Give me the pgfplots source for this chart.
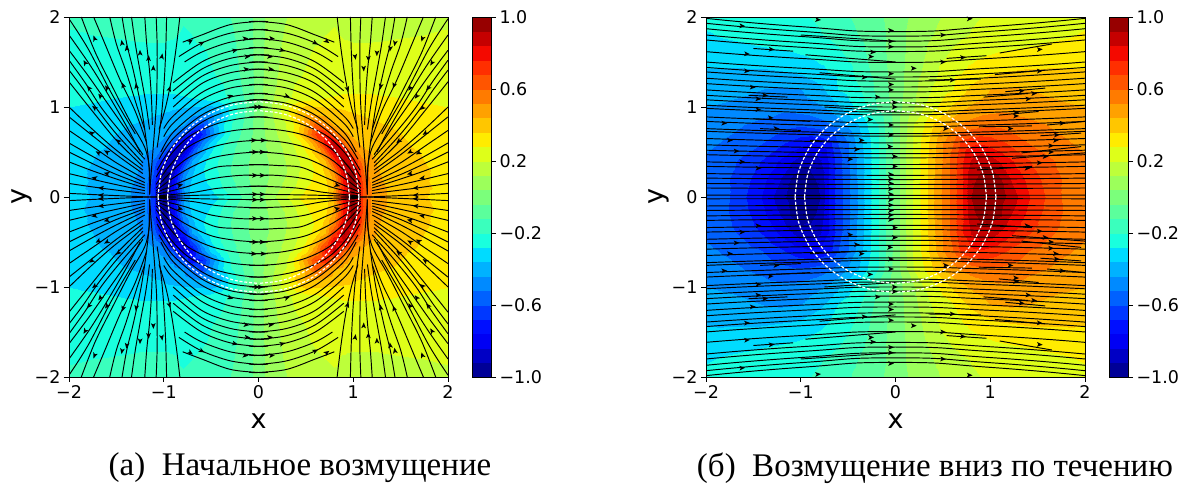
\documentclass[border=0pt]{standalone}
\usepackage{pgfplots}
\usepackage{pgfplotstable}
\usepackage{fontspec}
\pgfplotsset{compat=1.18}
\setmainfont{Liberation Serif}
\newfontfamily\djv{DejaVu Sans}
\pgfplotstableread[row sep=\\]{x y z\\
0 2 0\\.1 2 .06\\.2 2 .10\\.3 2 .12\\.4 2 .14\\.5 2 .15\\.6 2 .17\\.7 2 .19\\.8 2 .195\\.9 2 .19\\1 2 .18\\1.1 2 .175\\1.2 2 .17\\1.3 2 .17\\1.5 2 .17\\1.75 2 .175\\2 2 .18\\
0 1.8 0\\.1 1.8 .06\\.2 1.8 .105\\.3 1.8 .13\\.4 1.8 .15\\.5 1.8 .17\\.6 1.8 .185\\.7 1.8 .2\\.8 1.8 .205\\.9 1.8 .195\\1 1.8 .19\\1.1 1.8 .19\\1.2 1.8 .19\\1.3 1.8 .19\\1.5 1.8 .195\\1.75 1.8 .2\\2 1.8 .21\\
0 1.6 0\\.1 1.6 .07\\.2 1.6 .11\\.3 1.6 .14\\.4 1.6 .17\\.5 1.6 .19\\.6 1.6 .21\\.7 1.6 .215\\.8 1.6 .215\\.9 1.6 .215\\1 1.6 .215\\1.1 1.6 .215\\1.2 1.6 .215\\1.3 1.6 .22\\1.5 1.6 .225\\1.75 1.6 .23\\2 1.6 .235\\
0 1.4 0\\.1 1.4 .07\\.2 1.4 .115\\.3 1.4 .15\\.4 1.4 .18\\.5 1.4 .205\\.6 1.4 .225\\.7 1.4 .23\\.8 1.4 .235\\.9 1.4 .24\\1 1.4 .24\\1.1 1.4 .24\\1.2 1.4 .24\\1.3 1.4 .24\\1.5 1.4 .245\\1.75 1.4 .25\\2 1.4 .25\\
0 1.2 0\\.1 1.2 .08\\.2 1.2 .13\\.3 1.2 .17\\.4 1.2 .215\\.5 1.2 .23\\.6 1.2 .25\\.7 1.2 .255\\.8 1.2 .265\\.9 1.2 .27\\1 1.2 .27\\1.1 1.2 .27\\1.2 1.2 .27\\1.3 1.2 .27\\1.5 1.2 .27\\1.75 1.2 .27\\2 1.2 .26\\
0 1.1 0\\.1 1.1 .08\\.2 1.1 .14\\.3 1.1 .18\\.4 1.1 .225\\.5 1.1 .25\\.6 1.1 .265\\.7 1.1 .28\\.8 1.1 .285\\.9 1.1 .29\\1 1.1 .29\\1.1 1.1 .29\\1.2 1.1 .29\\1.3 1.1 .285\\1.5 1.1 .28\\1.75 1.1 .27\\2 1.1 .265\\
0 1 0\\.1 1 .09\\.2 1 .17\\.3 1 .26\\.4 1 .33\\.5 1 .38\\.6 1 .365\\.7 1 .36\\.8 1 .355\\.9 1 .35\\1 1 .345\\1.1 1 .335\\1.2 1 .325\\1.3 1 .315\\1.5 1 .305\\1.75 1 .29\\2 1 .28\\
0 .9 0\\.1 .9 .08\\.2 .9 .16\\.3 .9 .26\\.4 .9 .38\\.5 .9 .46\\.6 .9 .46\\.7 .9 .44\\.8 .9 .41\\.9 .9 .39\\1 .9 .37\\1.1 .9 .36\\1.2 .9 .35\\1.3 .9 .34\\1.5 .9 .32\\1.75 .9 .305\\2 .9 .29\\
0 .8 0\\.1 .8 .07\\.2 .8 .14\\.3 .8 .21\\.4 .8 .3\\.5 .8 .46\\.6 .8 .62\\.7 .8 .54\\.8 .8 .44\\.9 .8 .41\\1 .8 .4\\1.1 .8 .385\\1.2 .8 .375\\1.3 .8 .365\\1.5 .8 .35\\1.75 .8 .33\\2 .8 .31\\
0 .7 0\\.1 .7 .06\\.2 .7 .12\\.3 .7 .2\\.4 .7 .32\\.5 .7 .5\\.6 .7 .68\\.7 .7 .76\\.8 .7 .6\\.9 .7 .46\\1 .7 .42\\1.1 .7 .4\\1.2 .7 .39\\1.3 .7 .38\\1.5 .7 .36\\1.75 .7 .345\\2 .7 .33\\
0 .6 0\\.1 .6 .05\\.2 .6 .1\\.3 .6 .16\\.4 .6 .23\\.5 .6 .33\\.6 .6 .5\\.7 .6 .78\\.8 .6 .88\\.9 .6 .6\\1 .6 .47\\1.1 .6 .42\\1.2 .6 .4\\1.3 .6 .39\\1.5 .6 .365\\1.75 .6 .35\\2 .6 .33\\
0 .5 0\\.1 .5 .05\\.2 .5 .09\\.3 .5 .14\\.4 .5 .2\\.5 .5 .28\\.6 .5 .4\\.7 .5 .6\\.8 .5 .87\\.9 .5 .86\\1 .5 .58\\1.1 .5 .46\\1.2 .5 .435\\1.3 .5 .42\\1.5 .5 .38\\1.75 .5 .355\\2 .5 .335\\
0 .4 0\\.1 .4 .04\\.2 .4 .08\\.3 .4 .13\\.4 .4 .18\\.5 .4 .24\\.6 .4 .31\\.7 .4 .44\\.8 .4 .7\\.9 .4 .93\\1 .4 .78\\1.1 .4 .54\\1.2 .4 .45\\1.3 .4 .425\\1.5 .4 .39\\1.75 .4 .36\\2 .4 .34\\
0 .3 0\\.1 .3 .04\\.2 .3 .08\\.3 .3 .12\\.4 .3 .18\\.5 .3 .23\\.6 .3 .29\\.7 .3 .38\\.8 .3 .55\\.9 .3 .9\\1 .3 .92\\1.1 .3 .6\\1.2 .3 .46\\1.3 .3 .43\\1.5 .3 .395\\1.75 .3 .365\\2 .3 .345\\
0 .2 0\\.1 .2 .04\\.2 .2 .09\\.3 .2 .13\\.4 .2 .19\\.5 .2 .25\\.6 .2 .3\\.7 .2 .35\\.8 .2 .47\\.9 .2 .82\\1 .2 .97\\1.1 .2 .64\\1.2 .2 .475\\1.3 .2 .44\\1.5 .2 .4\\1.75 .2 .365\\2 .2 .345\\
0 .1 0\\.1 .1 .05\\.2 .1 .1\\.3 .1 .15\\.4 .1 .21\\.5 .1 .28\\.6 .1 .31\\.7 .1 .33\\.8 .1 .45\\.9 .1 .78\\1 .1 .98\\1.1 .1 .68\\1.2 .1 .5\\1.3 .1 .45\\1.5 .1 .405\\1.75 .1 .37\\2 .1 .34\\
0 0 0\\.1 0 .06\\.2 0 .13\\.3 0 .2\\.4 0 .27\\.5 0 .31\\.6 0 .31\\.7 0 .31\\.8 0 .46\\.9 0 .84\\1 0 .97\\1.1 0 .66\\1.2 0 .5\\1.3 0 .45\\1.5 0 .405\\1.75 0 .365\\2 0 .33\\
}\fieldA
\pgfplotstableread[row sep=\\]{x y z\\
0 2 0\\.1 2 .03\\.2 2 .06\\.3 2 .08\\.4 2 .105\\.5 2 .125\\.6 2 .15\\.7 2 .17\\.8 2 .19\\.9 2 .2\\1 2 .205\\1.1 2 .21\\1.2 2 .215\\1.4 2 .22\\1.6 2 .23\\1.8 2 .24\\2 2 .25\\
0 1.8 0\\.1 1.8 .04\\.2 1.8 .07\\.3 1.8 .1\\.4 1.8 .12\\.5 1.8 .14\\.6 1.8 .165\\.7 1.8 .19\\.8 1.8 .205\\.9 1.8 .215\\1 1.8 .225\\1.1 1.8 .23\\1.2 1.8 .235\\1.4 1.8 .245\\1.6 1.8 .26\\1.8 1.8 .27\\2 1.8 .29\\
0 1.6 0\\.1 1.6 .04\\.2 1.6 .08\\.3 1.6 .115\\.4 1.6 .15\\.5 1.6 .18\\.6 1.6 .215\\.7 1.6 .24\\.8 1.6 .25\\.9 1.6 .265\\1 1.6 .275\\1.1 1.6 .285\\1.2 1.6 .29\\1.4 1.6 .3\\1.6 1.6 .31\\1.8 1.6 .32\\2 1.6 .33\\
0 1.4 0\\.1 1.4 .045\\.2 1.4 .09\\.3 1.4 .13\\.4 1.4 .17\\.5 1.4 .23\\.6 1.4 .26\\.7 1.4 .275\\.8 1.4 .3\\.9 1.4 .32\\1 1.4 .34\\1.1 1.4 .355\\1.2 1.4 .36\\1.4 1.4 .37\\1.6 1.4 .37\\1.8 1.4 .37\\2 1.4 .365\\
0 1.2 0\\.1 1.2 .05\\.2 1.2 .1\\.3 1.2 .16\\.4 1.2 .21\\.5 1.2 .25\\.6 1.2 .27\\.7 1.2 .33\\.8 1.2 .38\\.9 1.2 .41\\1 1.2 .44\\1.1 1.2 .445\\1.2 1.2 .45\\1.4 1.2 .44\\1.6 1.2 .42\\1.8 1.2 .4\\2 1.2 .385\\
0 1 0\\.1 1 .06\\.2 1 .115\\.3 1 .2\\.4 1 .25\\.5 1 .31\\.6 1 .37\\.7 1 .42\\.8 1 .45\\.9 1 .47\\1 1 .48\\1.1 1 .5\\1.2 1 .5\\1.4 1 .49\\1.6 1 .47\\1.8 1 .455\\2 1 .44\\
0 .8 0\\.1 .8 .1\\.2 .8 .21\\.3 .8 .28\\.4 .8 .36\\.5 .8 .43\\.6 .8 .49\\.7 .8 .53\\.8 .8 .56\\.9 .8 .58\\1 .8 .59\\1.1 .8 .585\\1.2 .8 .57\\1.4 .8 .54\\1.6 .8 .52\\1.8 .8 .49\\2 .8 .47\\
0 .6 0\\.1 .6 .11\\.2 .6 .22\\.3 .6 .31\\.4 .6 .41\\.5 .6 .52\\.6 .6 .59\\.7 .6 .71\\.8 .6 .74\\.9 .6 .75\\1 .6 .73\\1.1 .6 .7\\1.2 .6 .67\\1.4 .6 .6\\1.6 .6 .56\\1.8 .6 .53\\2 .6 .5\\
0 .4 0\\.1 .4 .11\\.2 .4 .22\\.3 .4 .32\\.4 .4 .42\\.5 .4 .53\\.6 .4 .63\\.7 .4 .75\\.8 .4 .85\\.9 .4 .9\\1 .4 .89\\1.1 .4 .83\\1.2 .4 .78\\1.4 .4 .69\\1.6 .4 .62\\1.8 .4 .57\\2 .4 .535\\
0 .2 0\\.1 .2 .11\\.2 .2 .22\\.3 .2 .32\\.4 .2 .43\\.5 .2 .54\\.6 .2 .63\\.7 .2 .75\\.8 .2 .9\\.9 .2 .94\\1 .2 .96\\1.1 .2 .93\\1.2 .2 .85\\1.4 .2 .74\\1.6 .2 .65\\1.8 .2 .585\\2 .2 .54\\
0 0 0\\.1 0 .11\\.2 0 .22\\.3 0 .32\\.4 0 .43\\.5 0 .54\\.6 0 .63\\.7 0 .75\\.8 0 .92\\.9 0 .97\\1 0 .98\\1.1 0 .95\\1.2 0 .9\\1.4 0 .77\\1.6 0 .67\\1.8 0 .58\\2 0 .53\\
}\fieldB
\pgfplotstableread[row sep=\\]{x y z\\0 -1 -1\\1 -1 -1\\0 1 1\\1 1 1\\}\cbdata
\pgfplotstableread[row sep=\\]{x y a\\
-1.83 1.49 120\\-1.73 1.76 110\\-1.44 1.71 100\\-1.39 1.65 98\\-1.25 1.6 92\\-1.16 1.54 88\\-1.11 1.43 88\\-1.02 1.56 80\\-.94 1.2 72\\-1.43 1.24 110\\-1.29 1.23 100\\-1.6 1.21 125\\-1.67 1.12 128\\-1.79 1.21 130\\-1.73 .99 140\\-1.76 .71 145\\-1.69 .49 150\\-1.6 .5 150\\-1.48 .62 140\\-1.73 .21 170\\-1.6 .26 165\\-1.66 .1 175\\-1.66 .02 178\\-.72 1.73 35\\-.6 1.71 28\\-.25 1.63 15\\-.3 1.12 20\\-.14 1.76 5\\-.12 1.56 5\\-.83 .13 15\\-.05 .63 0\\-.04 .24 0\\-.04 .03 0\\-.04 .5 0\\-.13 1.42 5\\-.02 1 0\\
}\arrA
\pgfplotstableread[row sep=\\]{x y a\\
-1.62 1.9 -4\\-.82 1.97 -4\\-.05 1.85 0\\-.05 1.73 0\\-.05 1.67 0\\-.24 1.61 -2\\-.26 1.56 -2\\-1.31 1.64 -4\\-1.57 1.59 -4\\-1.57 1.4 -3\\-.33 1.33 -2\\-.05 1.37 0\\-.05 1.25 0\\-.05 1.19 0\\-1.51 1.22 -3\\-1.38 1.13 -3\\-1.45 1.09 -3\\-.19 1.11 -1\\-.01 1.05 0\\-.01 1 0\\-1.45 .97 -2\\-.27 .86 -1\\-1.32 .88 -2\\-1.81 .82 -2\\-.05 .8 0\\-1.26 .76 -2\\-.05 .69 0\\-1.75 .63 -1\\-.36 .63 -1\\-.06 .56 0\\-.41 .53 -1\\-1.68 .51 -1\\-.01 .45 0\\-.48 .42 -1\\-1.62 .39 -1\\-1.45 .32 -1\\-.01 .34 0\\-.05 .25 0\\-.05 .2 0\\-.05 .15 0\\-.05 .09 0\\-.05 .03 0\\.78 1.98 3\\.5 1.8 2\\1.52 1.64 4\\.71 1.55 2\\.5 1.5 2\\.19 1.43 0\\1.52 1.4 3\\.6 1.3 2\\1.33 1.18 3\\1.46 1.15 3\\1.4 1.09 3\\1.27 .94 2\\1.27 .9 2\\1.76 .82 2\\.53 .76 1\\1.21 .76 2\\1.7 .69 2\\1.69 .63 2\\1.64 .57 1\\1.64 .5 1\\1.58 .45 1\\1.52 .38 1\\1.39 .32 1\\
}\arrB
\pgfdeclareplotmark{arr}{\pgfpathmoveto{\pgfqpoint{3.2pt}{0pt}}\pgfpathlineto{\pgfqpoint{-2.6pt}{2.4pt}}\pgfpathlineto{\pgfqpoint{-1.2pt}{0pt}}\pgfpathlineto{\pgfqpoint{-2.6pt}{-2.4pt}}\pgfpathclose\pgfusepathqfill}
\tikzset{
 sl/.style={draw=black,line width=.95pt,no marks,smooth,tension=.55},
 slr/.style={draw=black,line width=.95pt,no marks,smooth,tension=1},
 ring/.style={draw=white,line width=1.2pt,dash pattern=on 3pt off 1.8pt,no marks,smooth},
}
\pgfplotsset{
 arrstyle/.style={only marks,scatter,mark=arr,point meta=x,
   scatter/use mapped color={draw=black,fill=black},
   visualization depends on={#1 \as \ang},
   scatter/@pre marker code/.append style={/tikz/rotate=\ang}},
}
\newcommand\Q[1]{%
 \addplot[sl] table[header=false,row sep=\\,x index=0,y index=1]{#1};
 \addplot[sl] table[header=false,row sep=\\,x index=0,y expr=-\thisrowno{1}]{#1};
 \addplot[sl] table[header=false,row sep=\\,x expr=-\thisrowno{0},y index=1]{#1};
 \addplot[sl] table[header=false,row sep=\\,x expr=-\thisrowno{0},y expr=-\thisrowno{1}]{#1};
}
\newcommand\R[1]{%
 \addplot[slr] table[header=false,row sep=\\,x index=0,y index=1]{#1};
 \addplot[slr] table[header=false,row sep=\\,x index=0,y expr=-\thisrowno{1}]{#1};
}
\newcommand\ringq[1]{%
 \addplot[ring] table[header=false,row sep=\\,x index=0,y index=1]{#1};
 \addplot[ring] table[header=false,row sep=\\,x index=0,y expr=-\thisrowno{1}]{#1};
 \addplot[ring] table[header=false,row sep=\\,x expr=-\thisrowno{0},y index=1]{#1};
 \addplot[ring] table[header=false,row sep=\\,x expr=-\thisrowno{0},y expr=-\thisrowno{1}]{#1};
}
\newcommand\rings{%
 \ringq{1.06 0\\1.024 .274\\.918 .53\\.75 .75\\.53 .918\\.274 1.024\\0 1.06\\}
 \ringq{.96 0\\.927 .248\\.831 .48\\.679 .679\\.48 .831\\.248 .927\\0 .96\\}
}
\newcommand\field[3]{%
 \addplot3[surf,shader=interp,mesh/rows=#2,mesh/cols=#3] table[x=x,y=y,z=z]{#1};
 \addplot3[surf,shader=interp,mesh/rows=#2,mesh/cols=#3] table[x=x,y expr=-\thisrow{y},z=z]{#1};
 \addplot3[surf,shader=interp,mesh/rows=#2,mesh/cols=#3] table[x expr=-\thisrow{x},y=y,z expr=-\thisrow{z}]{#1};
 \addplot3[surf,shader=interp,mesh/rows=#2,mesh/cols=#3] table[x expr=-\thisrow{x},y expr=-\thisrow{y},z expr=-\thisrow{z}]{#1};
}
\pgfplotsset{
 colormap={ojet}{rgb=(0,0,.591) rgb=(0,0,.773) rgb=(0,0,.955) rgb=(0,.06,1) rgb=(0,.22,1) rgb=(0,.38,1) rgb=(0,.54,1) rgb=(0,.70,1) rgb=(0,.86,1) rgb=(.097,1,.871) rgb=(.226,1,.742) rgb=(.355,1,.613) rgb=(.484,1,.484) rgb=(.613,1,.355) rgb=(.742,1,.226) rgb=(.871,1,.097) rgb=(1,.926,0) rgb=(1,.778,0) rgb=(1,.63,0) rgb=(1,.481,0) rgb=(1,.333,0) rgb=(1,.185,0) rgb=(.955,.037,0) rgb=(.773,0,0) rgb=(.591,0,0)},
 colormap name=ojet,
 common/.style={
  scale only axis,anchor=south west,
  view={0}{90},colormap access=piecewise constant,
  point meta min=-1,point meta max=1,zmin=-1,zmax=1,ztick=\empty,
  tick style={black,line width=.8pt},major tick length=5pt,
  tick align=outside,axis line style={black,line width=.8pt},
  tick label style={font=\djv\fontsize{17.5}{20}\selectfont},
  clip=true,
 },
 panel/.style={common,width=379pt,height=360pt,
  xmin=-2,xmax=2,ymin=-2,ymax=2,
  xtick={-2,-1,0,1,2},ytick={-2,-1,0,1,2},
  xticklabels={−2,−1,0,1,2},yticklabels={−2,−1,0,1,2},
  xtick pos=bottom,ytick pos=left,
  xlabel={x},ylabel={y},
  label style={font=\djv\fontsize{27}{30}\selectfont},
  xlabel style={yshift=-8pt},ylabel style={yshift=-4.5pt},
 },
 over/.style={scale only axis,anchor=south west,width=379pt,height=360pt,xmin=-2,xmax=2,ymin=-2,ymax=2,hide axis},
 cb/.style={common,width=19pt,height=360pt,
  xmin=0,xmax=1,ymin=-1,ymax=1,xtick=\empty,
  ytick={-1,-.6,-.2,.2,.6,1},yticklabels={−1.0,−0.6,−0.2,0.2,0.6,1.0},
  ytick pos=right,yticklabel pos=right,
 },
}
\begin{document}
\begin{tikzpicture}[x=1pt,y=1pt]
\useasboundingbox (0,0) rectangle (1189,489);
\begin{axis}[panel,at={(69pt,112pt)}]
\field{\fieldA}{17}{17}
\end{axis}
\begin{axis}[over,at={(69pt,112pt)}]
\Q{-1.15 .03\\-1.15 .3\\-1.2 .55\\-1.36 .85\\-1.53 1.2\\-1.72 1.6\\-1.87 2\\}
\Q{-1.18 .6\\-1.3 .95\\-1.46 1.3\\-1.62 1.7\\-1.74 2\\}
\Q{-1.2 .75\\-1.28 1\\-1.4 1.4\\-1.5 1.7\\-1.57 2\\}
\Q{-1.15 .03\\-1.16 .4\\-1.23 .95\\-1.32 1.4\\-1.39 1.7\\-1.44 2\\}
\Q{-1.15 .75\\-1.19 1.05\\-1.25 1.4\\-1.3 1.7\\-1.34 2\\}
\Q{-1.12 .8\\-1.13 1.1\\-1.15 1.4\\-1.18 1.7\\-1.2 2\\}
\Q{-1.15 .03\\-1.13 .3\\-1.08 1\\-1.07 1.4\\-1.07 1.7\\-1.08 2\\}
\Q{-1.07 .55\\-1.03 .85\\-1 1.2\\-.98 1.6\\-.97 2\\}
\Q{-1.05 .75\\-.98 1\\-.92 1.3\\-.87 1.65\\-.83 2\\}
\Q{-.8 1.72\\-.6 1.8\\-.3 1.915\\0 1.95\\.1 1.947\\}
\Q{-.84 1.56\\-.6 1.71\\-.3 1.82\\0 1.86\\.1 1.856\\}
\Q{-.78 1.5\\-.6 1.61\\-.3 1.72\\0 1.76\\.1 1.756\\}
\Q{-.9 1.27\\-.6 1.5\\-.3 1.62\\0 1.66\\.1 1.656\\}
\Q{-.9 1.18\\-.6 1.42\\-.3 1.54\\0 1.58\\.1 1.576\\}
\Q{-.9 1.09\\-.6 1.34\\-.3 1.46\\0 1.5\\.1 1.496\\}
\Q{-.9 1\\-.6 1.26\\-.3 1.38\\0 1.42\\.1 1.416\\}
\Q{-1 .76\\-.9 .9\\-.6 1.16\\-.3 1.29\\0 1.33\\.1 1.326\\}
\Q{-1 .67\\-.9 .82\\-.6 1.08\\-.3 1.21\\0 1.25\\.1 1.246\\}
\Q{-1.03 .5\\-.9 .72\\-.6 .98\\-.3 1.11\\0 1.15\\.1 1.146\\}
\Q{-1.05 .42\\-.9 .65\\-.6 .91\\-.3 1.04\\0 1.08\\.1 1.076\\}
\Q{-1.07 .3\\-.9 .57\\-.6 .83\\-.3 .96\\0 1\\.1 .996\\}
\Q{-1.08 .22\\-.92 .48\\-.72 .68\\-.45 .81\\-.2 .87\\0 .89\\.1 .888\\}
\Q{-1.08 .14\\-.93 .36\\-.75 .55\\-.5 .68\\-.25 .74\\0 .76\\.1 .758\\}
\Q{-1.08 .1\\-.93 .27\\-.75 .43\\-.5 .55\\-.25 .61\\0 .63\\.1 .63\\}
\Q{-1.08 .07\\-.93 .19\\-.75 .31\\-.5 .43\\-.25 .48\\0 .5\\.1 .5\\}
\Q{-1.08 .05\\-.9 .13\\-.7 .22\\-.45 .33\\-.2 .35\\0 .36\\.1 .36\\}
\Q{-1.08 .03\\-.8 .1\\-.5 .2\\-.2 .24\\0 .24\\.1 .24\\}
\Q{-1.08 .01\\-.7 .05\\-.4 .1\\0 .12\\.1 .12\\}
\Q{-1.15 0\\-.6 .02\\0 .03\\.1 .03\\}
\Q{-1.3 .7\\-1.55 1.15\\-1.8 1.65\\-2 1.98\\}
\Q{-1.25 .5\\-1.4 .8\\-1.65 1.25\\-1.8 1.5\\-2 1.8\\}
\Q{-1.22 .47\\-1.4 .75\\-1.6 1.05\\-1.8 1.35\\-2 1.63\\}
\Q{-1.2 .42\\-1.42 .68\\-1.65 .98\\-1.83 1.27\\-2 1.52\\}
\Q{-1.22 .38\\-1.5 .7\\-1.7 .97\\-1.85 1.2\\-2 1.41\\}
\Q{-1.22 .34\\-1.5 .63\\-1.75 .95\\-2 1.28\\}
\Q{-1.22 .3\\-1.5 .52\\-1.75 .75\\-2 1\\}
\Q{-1.22 .26\\-1.5 .47\\-1.75 .68\\-2 .89\\}
\Q{-1.2 .2\\-1.5 .38\\-1.75 .56\\-2 .74\\}
\Q{-1.2 .16\\-1.5 .31\\-1.75 .45\\-2 .6\\}
\Q{-1.2 .13\\-1.5 .25\\-1.75 .37\\-2 .5\\}
\Q{-1.2 .1\\-1.5 .2\\-1.75 .29\\-2 .39\\}
\Q{-1.2 .07\\-1.6 .16\\-2 .26\\}
\Q{-1.2 .04\\-1.6 .09\\-2 .15\\}
\Q{-1.15 0\\-1.6 .02\\-2 .04\\}
\addplot[arrstyle={\thisrow{a}}] table[x=x,y=y]{\arrA};
\addplot[arrstyle={-\thisrow{a}}] table[x=x,y expr=-\thisrow{y}]{\arrA};
\addplot[arrstyle={-\thisrow{a}}] table[x expr=-\thisrow{x},y=y]{\arrA};
\addplot[arrstyle={\thisrow{a}}] table[x expr=-\thisrow{x},y expr=-\thisrow{y}]{\arrA};
\rings
\end{axis}
\begin{axis}[cb,at={(472pt,112pt)}]
\addplot3[surf,shader=interp,mesh/rows=2,mesh/cols=2] table[x=x,y=y,z=z]{\cbdata};
\end{axis}
\begin{axis}[panel,at={(706pt,112pt)}]
\field{\fieldB}{11}{17}
\end{axis}
\begin{axis}[over,at={(706pt,112pt)}]
\R{-2 1.985\\-1 1.893\\0 1.838\\1 1.893\\2 1.985\\}
\R{-2 1.93\\-1 1.841\\0 1.787\\1 1.841\\2 1.93\\}
\R{-2 1.87\\-1 1.784\\0 1.731\\1 1.784\\2 1.87\\}
\R{-2 1.8\\-1 1.717\\0 1.667\\1 1.717\\2 1.8\\}
\R{-2 1.745\\-1 1.664\\0 1.616\\1 1.664\\2 1.745\\}
\R{-2 1.615\\-1 1.54\\0 1.495\\1 1.54\\2 1.615\\}
\R{-2 1.5\\-1 1.431\\0 1.389\\1 1.431\\2 1.5\\}
\R{-2 1.44\\-1 1.373\\0 1.333\\1 1.373\\2 1.44\\}
\R{-2 1.39\\-1 1.326\\0 1.287\\1 1.326\\2 1.39\\}
\R{-2 1.32\\-1 1.259\\0 1.222\\1 1.259\\2 1.32\\}
\R{-2 1.26\\-1 1.202\\0 1.167\\1 1.202\\2 1.26\\}
\R{-2 1.19\\-1 1.135\\0 1.102\\1 1.135\\2 1.19\\}
\R{-2 1.13\\-1 1.078\\0 1.046\\1 1.078\\2 1.13\\}
\R{-2 1.08\\-1 1.03\\0 1\\1 1.03\\2 1.08\\}
\R{-2 1.02\\-1 .973\\0 .944\\1 .973\\2 1.02\\}
\R{-2 .985\\-1 .94\\0 .912\\1 .94\\2 .985\\}
\R{-2 .89\\-1 .849\\0 .824\\1 .849\\2 .89\\}
\R{-2 .84\\-1 .801\\0 .778\\1 .801\\2 .84\\}
\R{-2 .76\\-1 .725\\0 .704\\1 .725\\2 .76\\}
\R{-2 .73\\-1 .696\\0 .676\\1 .696\\2 .73\\}
\R{-2 .65\\-1 .62\\0 .602\\1 .62\\2 .65\\}
\R{-2 .58\\-1 .553\\0 .537\\1 .553\\2 .58\\}
\R{-2 .52\\-1 .496\\0 .481\\1 .496\\2 .52\\}
\R{-2 .47\\-1 .448\\0 .435\\1 .448\\2 .47\\}
\R{-2 .39\\-1 .372\\0 .361\\1 .372\\2 .39\\}
\R{-2 .34\\-1 .324\\0 .315\\1 .324\\2 .34\\}
\R{-2 .26\\-1 .248\\0 .241\\1 .248\\2 .26\\}
\R{-2 .21\\-1 .2\\0 .194\\1 .2\\2 .21\\}
\R{-2 .15\\-1 .143\\0 .139\\1 .143\\2 .15\\}
\R{-2 .1\\-1 .095\\0 .093\\1 .095\\2 .1\\}
\R{-2 .02\\-1 .019\\0 .019\\1 .019\\2 .02\\}
\R{-1.5 1.65\\-1.08 1.62\\}
\R{-1 1.8\\0 1.73\\}
\R{-.95 1.58\\0 1.5\\}
\R{-.8 1.38\\0 1.31\\}
\R{-1.55 1.13\\-1.14 1.11\\}
\R{-1.5 .87\\-.9 .84\\}
\R{-.75 1\\0 .95\\}
\R{-1.43 .76\\-1 .74\\}
\R{-.9 .63\\-.3 .6\\}
\R{.35 1.3\\.9 1.31\\}
\R{.54 1.54\\.96 1.57\\}
\R{1.1 1.6\\1.65 1.7\\}
\R{1.05 1.36\\1.58 1.41\\}
\R{1.16 1.17\\1.58 1.21\\}
\R{.93 1.11\\1.4 1.15\\}
\R{1.09 .91\\1.51 .95\\}
\R{1.6 .8\\2 .84\\}
\R{.88 .78\\1.44 .79\\}
\R{1.53 .68\\1.96 .71\\}
\R{1.33 .49\\1.96 .56\\}
\R{1.23 .43\\2 .49\\}
\R{.86 .3\\1.44 .34\\}
\addplot[arrstyle={\thisrow{a}}] table[x=x,y=y]{\arrB};
\addplot[arrstyle={-\thisrow{a}}] table[x=x,y expr=-\thisrow{y}]{\arrB};
\rings
\end{axis}
\begin{axis}[cb,at={(1109pt,112pt)}]
\addplot3[surf,shader=interp,mesh/rows=2,mesh/cols=2] table[x=x,y=y,z=z]{\cbdata};
\end{axis}
\node[font=\fontsize{33}{36}\selectfont,anchor=center] at (300,21) {(а)\ \ Начальное возмущение};
\node[font=\fontsize{33}{36}\selectfont,anchor=center] at (935,21) {(б)\ \ Возмущение вниз по течению};
\end{tikzpicture}
\end{document}
